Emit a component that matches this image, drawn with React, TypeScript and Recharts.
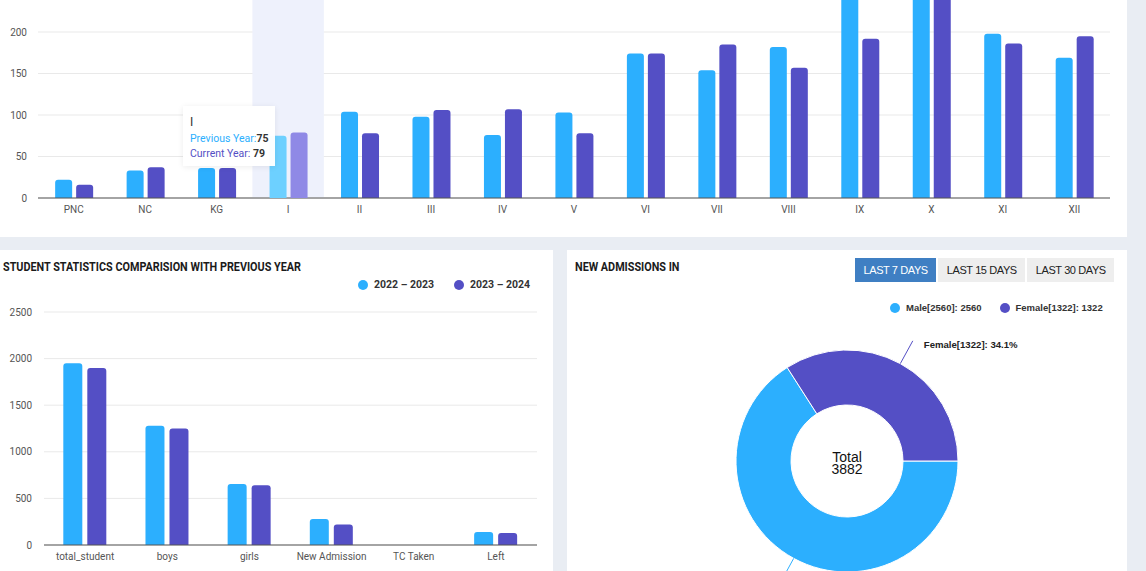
import React from "react";
import {
  BarChart, Bar, XAxis, YAxis, CartesianGrid, Tooltip, Legend,
  PieChart, Pie, Cell,
} from "recharts";

const classNames = ["PNC", "NC", "KG", "I", "II", "III", "IV", "V", "VI", "VII", "VIII", "IX", "X", "XI", "XII"];
const previousYear = [22, 33, 36, 75, 104, 98, 76, 103, 174, 154, 182, 258, 270, 198, 169];
const currentYear = [16, 37, 36, 79, 78, 106, 107, 78, 174, 185, 157, 192, 252, 186, 195];
const classTicks = [0, 50, 100, 150, 200, 250, 300];

const statNames = ["total_student", "boys", "girls", "New Admission", "TC Taken", "Left"];
const stats2022 = [1950, 1280, 655, 280, 0, 140];
const stats2023 = [1900, 1250, 640, 220, 0, 130];
const statTicks = [0, 500, 1000, 1500, 2000, 2500];

const genderNames = ["Male[2560]", "Female[1322]"];
const genderCounts = [2560, 1322];
const rangeButtons = ["LAST 7 DAYS", "LAST 15 DAYS", "LAST 30 DAYS"];

const BLUE = "#2caffe";
const PURPLE = "#544fc5";
const BG = "#e9edf3";
const SANS = "Roboto, 'Noto Sans', sans-serif";
const ARIAL = "'Liberation Sans', Arial, sans-serif";
const genderColors = [BLUE, PURPLE];

const tickStyle = { fontSize: 10, fill: "#555", fontFamily: SANS };

function ClassTooltip({ active, payload, label }: any) {
  if (!active || !payload || !payload.length) return null;
  return (
    <div
      style={{
        width: 78, height: 45, padding: "8px 7px 7px", background: "rgba(255,255,255,0.97)",
        boxShadow: "0 1px 6px rgba(0,0,0,0.08)", fontFamily: SANS, fontSize: 10.5,
        lineHeight: "15px", color: "#333", whiteSpace: "nowrap",
      }}
    >
      <div style={{ fontSize: 12, lineHeight: "17px" }}>{label}</div>
      <div><span style={{ color: BLUE }}>Previous Year:</span><b>{payload[0].value}</b></div>
      <div><span style={{ color: PURPLE }}>Current Year: </span><b>{payload[1].value}</b></div>
    </div>
  );
}

function ClassChart() {
  const data = classNames.map((name, i) => ({ name, previous: previousYear[i], current: currentYear[i] }));
  return (
    <BarChart
      width={1127} height={298} data={data}
      margin={{ top: 9, right: 17, bottom: 0, left: 0 }}
      barCategoryGap="24%" barGap={4}
    >
      <CartesianGrid vertical={false} stroke="#e9e9e9" />
      <XAxis dataKey="name" height={40} interval={0} axisLine={{ stroke: "#555" }} tickLine={false} tick={tickStyle} />
      <YAxis width={38} domain={[0, 300]} ticks={classTicks} axisLine={false} tickLine={false} tickMargin={5} tick={tickStyle} />
      <Tooltip
        content={<ClassTooltip />}
        defaultIndex={3}
        active
        position={{ x: 183, y: 166 }}
        cursor={{ fill: "#eef1fc" }}
        isAnimationActive={false}
        wrapperStyle={{ outline: "none" }}
      />
      <Bar dataKey="previous" name="Previous Year" fill={BLUE} activeBar={{ fill: "#6dd0ff" }} radius={[3, 3, 0, 0]} isAnimationActive={false} />
      <Bar dataKey="current" name="Current Year" fill={PURPLE} activeBar={{ fill: "#8f89e6" }} radius={[3, 3, 0, 0]} isAnimationActive={false} />
    </BarChart>
  );
}

function renderStatLegend(props: any) {
  const items = props.payload || [];
  return (
    <div style={{ display: "flex", alignItems: "center", height: 15, fontFamily: SANS, fontSize: 10.5, fontWeight: 700, color: "#333", whiteSpace: "nowrap" }}>
      {items.map((entry: any, i: number) => (
        <div key={i} style={{ display: "flex", alignItems: "center", marginRight: 20, flexShrink: 0 }}>
          <span style={{ width: 10, height: 10, borderRadius: 5, background: entry.color, marginRight: 6 }} />
          <span>{entry.value}</span>
        </div>
      ))}
    </div>
  );
}

function StatsChart() {
  const data = statNames.map((name, i) => ({ name, y2022: stats2022[i], y2023: stats2023[i] }));
  return (
    <BarChart
      width={553} height={321} data={data}
      margin={{ top: 62, right: 16, bottom: 0, left: 0 }}
      barCategoryGap="23.5%" barGap={5}
    >
      <CartesianGrid vertical={false} stroke="#e9e9e9" />
      <XAxis dataKey="name" height={26} interval={0} axisLine={{ stroke: "#555" }} tickLine={false} tick={tickStyle} />
      <YAxis width={44} domain={[0, 2500]} ticks={statTicks} axisLine={false} tickLine={false} tickMargin={6} tick={tickStyle} />
      <Legend
        layout="horizontal" verticalAlign="middle" align="center"
        wrapperStyle={{ top: 27, left: 358, width: 190, height: 15 }}
        content={renderStatLegend}
      />
      <Bar dataKey="y2022" name="2022 – 2023" fill={BLUE} radius={[3, 3, 0, 0]} isAnimationActive={false} />
      <Bar dataKey="y2023" name="2023 – 2024" fill={PURPLE} radius={[3, 3, 0, 0]} isAnimationActive={false} />
    </BarChart>
  );
}

function renderGenderLegend(props: any) {
  const items = props.payload || [];
  return (
    <div style={{ display: "flex", alignItems: "center", height: 15, fontFamily: ARIAL, fontSize: 9.5, fontWeight: 700, color: "#333", whiteSpace: "nowrap" }}>
      {items.map((_: any, i: number) => (
        <div key={i} style={{ display: "flex", alignItems: "center", marginRight: 18, flexShrink: 0 }}>
          <span style={{ width: 10, height: 10, borderRadius: 5, background: genderColors[i], marginRight: 6 }} />
          <span>{`${genderNames[i]}: ${genderCounts[i]}`}</span>
        </div>
      ))}
    </div>
  );
}

function renderGenderLabel(props: any) {
  const { cx, cy, midAngle, outerRadius, index, percent } = props;
  const rad = Math.PI / 180;
  const cos = Math.cos(-midAngle * rad);
  const sin = Math.sin(-midAngle * rad);
  const sx = cx + outerRadius * cos;
  const sy = cy + outerRadius * sin;
  const ex = cx + (outerRadius + 26) * cos;
  const ey = cy + (outerRadius + 26) * sin;
  const right = cos >= 0;
  return (
    <g>
      <path d={`M${sx},${sy}L${ex},${ey}`} stroke={genderColors[index]} fill="none" strokeWidth={1} />
      <text
        x={ex + (right ? 11 : -11)} y={ey + 7} textAnchor={right ? "start" : "end"}
        fontFamily={ARIAL} fontSize={9.6} fontWeight={700} fill="#222"
      >
        {`${genderNames[index]}: ${(percent * 100).toFixed(1)}%`}
      </text>
    </g>
  );
}

function AdmissionsChart() {
  const data = genderNames.map((name, i) => ({ name, value: genderCounts[i] }));
  const total = genderCounts.reduce((a, b) => a + b, 0);
  const cx = 280;
  const cy = 211;
  return (
    <PieChart width={560} height={321} margin={{ top: 0, right: 0, bottom: 0, left: 0 }}>
      <Legend
        layout="horizontal" verticalAlign="middle" align="center"
        wrapperStyle={{ top: 50, left: 323, width: 230, height: 15 }}
        content={renderGenderLegend}
      />
      <Pie
        data={data} dataKey="value" nameKey="name"
        cx={cx} cy={cy} innerRadius={56} outerRadius={111}
        startAngle={0} endAngle={-360}
        stroke="#fff" strokeWidth={1}
        label={renderGenderLabel} labelLine={false}
        isAnimationActive={false}
      >
        {data.map((_, i) => (
          <Cell key={i} fill={genderColors[i]} />
        ))}
      </Pie>
      <text textAnchor="middle" fontFamily={ARIAL} fontSize={14} fill="#111">
        <tspan x={cx} y={cy + 1}>Total</tspan>
        <tspan x={cx} y={cy + 13}>{total}</tspan>
      </text>
    </PieChart>
  );
}

function PanelTitle({ text, left }: { text: string; left: number }) {
  return (
    <div
      style={{
        position: "absolute", left, top: 9, fontFamily: SANS, fontWeight: 700, fontSize: 12.5,
        lineHeight: "15px", color: "#1b1b1b", whiteSpace: "nowrap",
        transform: "scaleX(0.865)", transformOrigin: "left center",
      }}
    >
      {text}
    </div>
  );
}

const panel = { position: "absolute" as const, background: "#fff", overflow: "hidden" };

export default function App() {
  return (
    <div style={{ position: "absolute", left: 0, top: 0, width: 1146, height: 571, overflow: "hidden", background: BG }}>
      <div style={{ ...panel, left: 0, top: 0, width: 1127, height: 237 }}>
        <div style={{ position: "absolute", left: 0, top: -60 }}>
          <ClassChart />
        </div>
      </div>

      <div style={{ ...panel, left: 0, top: 250, width: 553, height: 321 }}>
        <div style={{ position: "absolute", left: 0, top: 0 }}>
          <StatsChart />
        </div>
        <PanelTitle text="STUDENT STATISTICS COMPARISION WITH PREVIOUS YEAR" left={3} />
      </div>

      <div style={{ ...panel, left: 567, top: 250, width: 560, height: 321 }}>
        <div style={{ position: "absolute", left: 0, top: 0 }}>
          <AdmissionsChart />
        </div>
        <PanelTitle text="NEW ADMISSIONS IN" left={8} />
        <div style={{ position: "absolute", left: 288, top: 8, display: "flex", gap: 2 }}>
          {rangeButtons.map((b, i) => (
            <div
              key={b}
              style={{
                height: 24, lineHeight: "24px", padding: "0 8.5px", fontFamily: ARIAL, fontSize: 11,
                letterSpacing: -0.4, whiteSpace: "nowrap",
                background: i === 0 ? "#3f7fc3" : "#eeeeee", color: i === 0 ? "#fff" : "#222",
              }}
            >
              {b}
            </div>
          ))}
        </div>
      </div>
    </div>
  );
}
